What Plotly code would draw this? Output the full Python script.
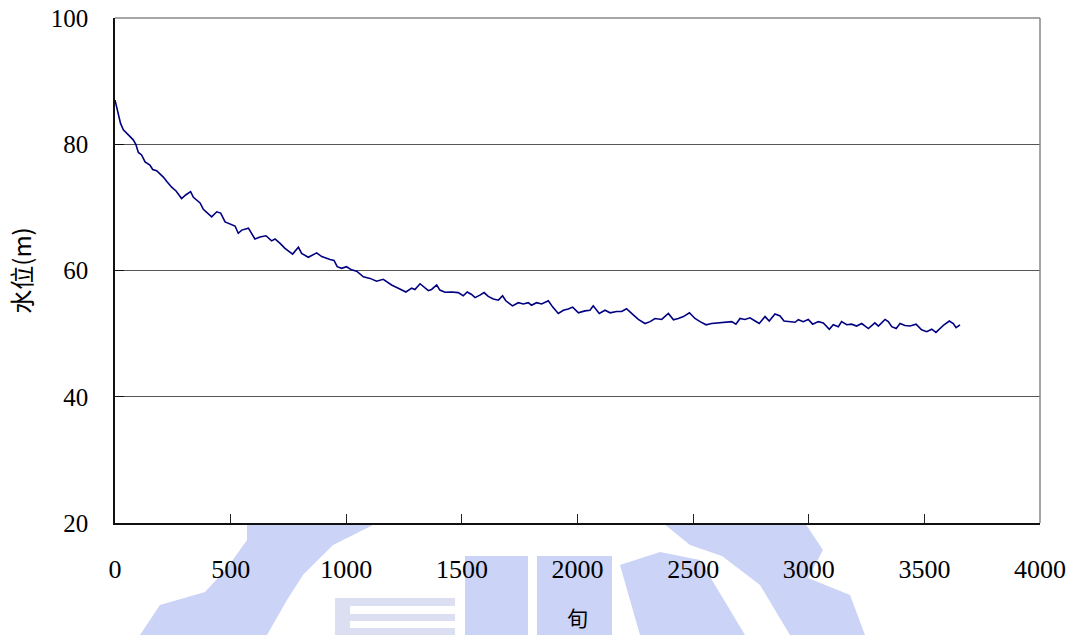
import plotly.graph_objects as go

# Water level (m) per ten-day period (旬)
period = [
    0, 14, 24, 36, 58, 79, 90, 101, 115, 130, 151, 163, 180, 195, 209, 224, 245, 264,
    288, 307, 327, 339, 353, 368, 382, 399, 418, 440, 457, 476, 497, 519, 533, 548,
    577, 605, 627, 653, 677, 692, 714, 735, 768, 793, 807, 836, 872, 894, 930, 947,
    961, 980, 1001, 1023, 1045, 1074, 1103, 1131, 1160, 1177, 1196, 1225, 1258, 1283,
    1297, 1319, 1341, 1355, 1369, 1391, 1405, 1427, 1456, 1484, 1506, 1523, 1542, 1557,
    1578, 1596, 1614, 1636, 1658, 1676, 1690, 1719, 1744, 1766, 1787, 1801, 1823, 1845,
    1874, 1893, 1917, 1939, 1960, 1979, 2004, 2032, 2054, 2068, 2094, 2119, 2141, 2169,
    2191, 2212, 2234, 2263, 2292, 2314, 2335, 2364, 2393, 2415, 2436, 2458, 2484, 2508,
    2530, 2556, 2580, 2609, 2638, 2667, 2685, 2703, 2724, 2746, 2768, 2786, 2811, 2829,
    2854, 2876, 2893, 2919, 2941, 2955, 2976, 2998, 3017, 3041, 3063, 3089, 3106, 3128,
    3142, 3164, 3185, 3207, 3229, 3258, 3286, 3301, 3330, 3344, 3359, 3378, 3395, 3416,
    3438, 3464, 3488, 3510, 3532, 3550, 3568, 3585, 3608, 3625, 3637, 3654,
]
water_level = [
    87.0, 84.9, 83.3, 82.3, 81.5, 80.7, 80.0, 78.7, 78.3, 77.2, 76.7, 76.0, 75.8, 75.3,
    74.8, 74.1, 73.2, 72.6, 71.4, 72.0, 72.5, 71.6, 71.1, 70.7, 69.7, 69.2, 68.5, 69.3,
    69.1, 67.7, 67.4, 67.05, 65.9, 66.4, 66.7, 65.0, 65.3, 65.5, 64.7, 65.0, 64.3, 63.5,
    62.6, 63.7, 62.7, 62.1, 62.8, 62.2, 61.75, 61.6, 60.6, 60.35, 60.6, 60.1, 59.9, 59.0,
    58.75, 58.3, 58.6, 58.2, 57.7, 57.2, 56.6, 57.2, 57.0, 57.9, 57.3, 56.8, 57.0, 57.7,
    56.9, 56.55, 56.6, 56.5, 56.0, 56.6, 56.2, 55.7, 56.1, 56.5, 55.9, 55.5, 55.3, 56.0,
    55.2, 54.4, 54.9, 54.7, 54.9, 54.5, 54.9, 54.7, 55.2, 54.2, 53.2, 53.7, 53.9, 54.2,
    53.3, 53.6, 53.7, 54.4, 53.2, 53.7, 53.3, 53.5, 53.5, 53.95, 53.2, 52.25, 51.6, 51.9,
    52.4, 52.25, 53.2, 52.2, 52.4, 52.7, 53.3, 52.4, 51.9, 51.4, 51.6, 51.7, 51.7, 51.9,
    51.5, 52.4, 52.25, 52.5, 52.0, 51.6, 52.7, 52.0, 53.1, 52.8, 52.0, 51.9, 51.8, 52.2,
    51.9, 52.25, 51.5, 51.9, 51.7, 50.7, 51.4, 51.1, 51.9, 51.4, 51.5, 51.2, 51.6, 50.8,
    51.7, 51.2, 52.25, 51.9, 51.1, 50.8, 51.6, 51.3, 51.2, 51.5, 50.6, 50.3, 50.7, 50.2,
    50.8, 51.4, 52.0, 51.6, 50.95, 51.4,
]

x_ticks = [0, 500, 1000, 1500, 2000, 2500, 3000, 3500, 4000]
y_ticks = [20, 40, 60, 80, 100]

W, H = 1076, 635
L, R, T, B = 115, 36, 18, 112
PW, PH = W - L - R, H - T - B


def px(xp, yp):
    """Pixel position on the page -> paper coordinates."""
    return (xp - L) / PW, (H - B - yp) / PH


def poly(points):
    parts = []
    for i, (a, b) in enumerate(points):
        u, v = px(a, b)
        parts.append(("M" if i == 0 else "L") + f"{u:.4f},{v:.4f}")
    return " ".join(parts) + " Z"


mark = "rgba(160,174,238,0.55)"
mark_soft = "rgba(175,185,225,0.45)"


def seal(points, color=mark):
    return dict(type="path", xref="paper", yref="paper", layer="below",
                line=dict(width=0), fillcolor=color, path=poly(points))


shapes = [
    # faint seal printed behind the lower part of the page
    seal([(247, 523), (377, 523), (333, 545), (303, 575), (287, 600), (267, 635),
          (140, 635), (160, 605), (205, 592), (227, 568), (247, 540)]),
    seal([(335, 598), (455, 598), (455, 606), (350, 606), (350, 614), (455, 614),
          (455, 621), (350, 621), (350, 628), (455, 628), (455, 635), (335, 635)], mark_soft),
    seal([(465, 556), (528, 556), (528, 635), (465, 635)]),
    seal([(537, 556), (612, 556), (612, 635), (537, 635)]),
    seal([(620, 565), (660, 552), (700, 560), (745, 635), (640, 635)]),
    seal([(663, 523), (805, 523), (823, 550), (808, 578), (850, 595), (865, 635),
          (790, 635), (760, 585), (722, 556), (690, 545)]),
]

fig = go.Figure()
fig.add_trace(go.Scatter(
    x=period, y=water_level, mode="lines",
    line=dict(color="#000080", width=1.6),
    hoverinfo="x+y", showlegend=False,
))

serif = "'Liberation Serif', 'DejaVu Serif', serif"
cjk = "'Noto Sans CJK TC', 'Noto Sans CJK SC', sans-serif"

fig.update_layout(
    width=W, height=H,
    margin=dict(l=L, r=R, t=T, b=B, pad=0, autoexpand=False),
    paper_bgcolor="white", plot_bgcolor="white",
    shapes=shapes,
    xaxis=dict(
        range=[0, 4000], tickvals=x_ticks, ticktext=[str(v) for v in x_ticks],
        ticks="inside", ticklen=9, tickcolor="#222", tickwidth=1,
        showline=True, linecolor="#111", linewidth=1.5, mirror=False,
        showgrid=False, zeroline=False, automargin=False,
        tickfont=dict(family=serif, size=26, color="black"),
        ticklabelstandoff=22,
        title=dict(text="旬", font=dict(family=cjk, size=21, color="black"), standoff=28),
    ),
    yaxis=dict(
        range=[20, 100], tickvals=y_ticks, ticktext=[str(v) for v in y_ticks],
        ticks="inside", ticklen=9, tickcolor="#111", tickwidth=1,
        showline=True, linecolor="#111", linewidth=1.5, mirror=False,
        showgrid=True, gridcolor="#555", gridwidth=1, zeroline=False, automargin=False,
        tickfont=dict(family=serif, size=25, color="black"),
        ticklabelstandoff=20,
        title=dict(text="水位(m)", font=dict(family=cjk, size=24, color="black"), standoff=12),
    ),
)

# top and right frame in grey
fig.add_shape(type="line", xref="paper", yref="paper", x0=0, x1=1, y0=1, y1=1,
              line=dict(color="#888", width=1.5))
fig.add_shape(type="line", xref="paper", yref="paper", x0=1, x1=1, y0=0, y1=1,
              line=dict(color="#888", width=1.5))

fig.write_html("out.html")
